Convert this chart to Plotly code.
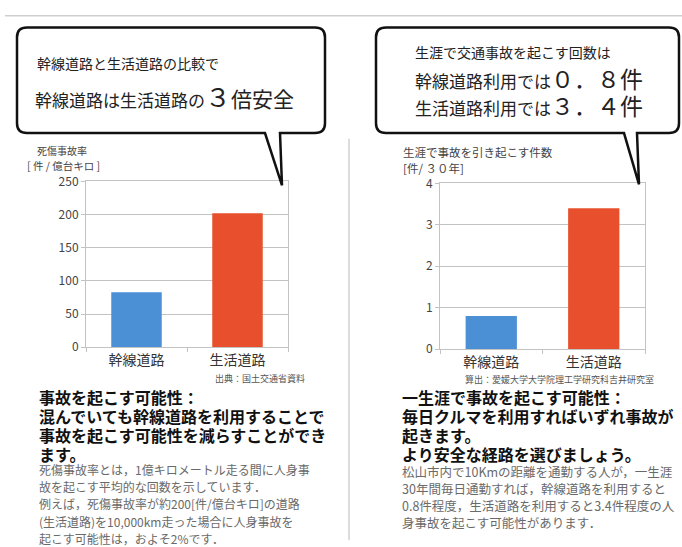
import plotly.graph_objects as go

# ---------------- data ----------------
categories = ["幹線道路", "生活道路"]
casualty_rate = [83, 202]          # 死傷事故率 [件/億台キロ]
lifetime_accidents = [0.8, 3.4]    # 生涯で事故を引き起こす件数 [件/30年]
bar_colors = ["#4b8fd5", "#e8502d"]
left_y_ticks = [0, 50, 100, 150, 200, 250]
right_y_ticks = [0, 1, 2, 3, 4]

W, H = 682, 547
FONT = "Noto Sans CJK JP"


def px(x):
    return x / W


def py(y):
    return 1 - y / H


fig = go.Figure()
fig.add_trace(go.Bar(x=categories, y=casualty_rate, marker=dict(color=bar_colors, line=dict(width=0)),
                     xaxis="x", yaxis="y", showlegend=False, hoverinfo="skip"))
fig.add_trace(go.Bar(x=categories, y=lifetime_accidents, marker=dict(color=bar_colors, line=dict(width=0)),
                     xaxis="x2", yaxis="y2", showlegend=False, hoverinfo="skip"))

grid = "#c3c3c3"
axis_common = dict(showline=True, linecolor=grid, linewidth=1, mirror=True, zeroline=False)

fig.update_layout(
    width=W, height=H, autosize=False,
    margin=dict(l=0, r=0, t=0, b=0),
    paper_bgcolor="white", plot_bgcolor="white",
    font=dict(family=FONT, color="#333"),
    bargap=0.5,
    xaxis=dict(domain=[px(86), px(288)], anchor="y", tickson="boundaries", ticks="outside",
               ticklen=4, tickcolor=grid, tickfont=dict(size=14, color="#333"),
               showgrid=False, **axis_common),
    yaxis=dict(domain=[py(348), py(177)], anchor="x", range=[0, 250], tickvals=left_y_ticks,
               ticks="outside", ticklen=4, tickcolor=grid, tickfont=dict(size=12, color="#444"),
               gridcolor=grid, gridwidth=1, **axis_common),
    xaxis2=dict(domain=[px(440), px(645)], anchor="y2", tickson="boundaries", ticks="outside",
                ticklen=4, tickcolor=grid, tickfont=dict(size=14, color="#333"),
                showgrid=False, **axis_common),
    yaxis2=dict(domain=[py(350), py(179)], anchor="x2", range=[0, 4], tickvals=right_y_ticks,
                ticks="outside", ticklen=4, tickcolor=grid, tickfont=dict(size=12, color="#444"),
                gridcolor=grid, gridwidth=1, **axis_common),
)


def bubble(x0, y0, x1, y1, r, tl, tr, tip):
    P = lambda x, y: f"{px(x):.5f},{py(y):.5f}"
    d = (f"M {P(x0 + r, y0)} L {P(x1 - r, y0)} Q {P(x1, y0)} {P(x1, y0 + r)} "
         f"L {P(x1, y1 - r)} Q {P(x1, y1)} {P(x1 - r, y1)} "
         f"L {P(tr, y1)} L {P(tip[0], tip[1])} L {P(tl, y1)} "
         f"L {P(x0 + r, y1)} Q {P(x0, y1)} {P(x0, y1 - r)} "
         f"L {P(x0, y0 + r)} Q {P(x0, y0)} {P(x0 + r, y0)} Z")
    return dict(type="path", xref="paper", yref="paper", path=d,
                fillcolor="white", line=dict(color="#111", width=2.5), layer="above")


shapes = [
    dict(type="line", xref="paper", yref="paper", x0=px(5), x1=px(682), y0=py(6), y1=py(6),
         line=dict(color="#cfcfcf", width=1.5)),
    dict(type="line", xref="paper", yref="paper", x0=px(349), x1=px(349), y0=py(133), y1=py(547),
         line=dict(color="#dcdcdc", width=2)),
    bubble(17, 18, 325, 127, 10, 265, 280, (282, 181)),
    bubble(376, 18, 679, 127, 10, 624, 637, (639, 180)),
]
fig.update_layout(shapes=shapes)


def block(x, y_first, lines, size, spacing, color="#222", bold=False):
    """Multi-line text block; line spacing set through the base font size."""
    base = spacing / 1.3
    body = "<br>".join(f"<span style='font-size:{size}px'>{l}</span>" for l in lines)
    if bold:
        body = f"<b>{body}</b>"
    yc = y_first + (len(lines) - 1) * spacing / 2
    fig.add_annotation(xref="paper", yref="paper", x=px(x), y=py(yc), text=body, showarrow=False,
                       xanchor="left", yanchor="middle", align="left",
                       font=dict(size=base, color=color, family=FONT))


# bubble texts
block(35, 55, ["幹線道路と生活道路の比較で"], 14, 18)
block(33, 88, ["幹線道路は生活道路の<span style='font-size:26px'>３</span>"
               "<span style='font-size:21px'>倍安全</span>"], 17, 26)
block(413, 43, ["生涯で交通事故を起こす回数は"], 14, 18)
block(413, 71, ["幹線道路利用では<span style='font-size:23px'>０．８件</span>",
                "生活道路利用では<span style='font-size:23px'>３．４件</span>"], 17, 27)

# axis titles
block(35, 145, ["死傷事故率"], 10, 14, "#444")
block(25, 161, ["[ 件 / 億台キロ ]"], 10.5, 14, "#444")
block(401, 147, ["生涯で事故を引き起こす件数", "[件/ ３０年]"], 11.5, 16, "#444")

# sources
block(213, 380, ["出典：国土交通省資料"], 9, 12, "#555")
block(463, 381, ["算出：愛媛大学大学院理工学研究科吉井研究室"], 9, 12, "#555")

# bottom texts left
left_heads = ["事故を起こす可能性：", "混んでいても幹線道路を利用することで",
              "事故を起こす可能性を減らすことができ", "ます。"]
block(37, 400, left_heads, 16, 19, "#111", bold=True)
left_small = ["死傷事故率とは，1億キロメートル走る間に人身事", "故を起こす平均的な回数を示しています．",
              "例えば，死傷事故率が約200[件/億台キロ]の道路", "(生活道路)を10,000km走った場合に人身事故を",
              "起こす可能性は，およそ2%です．"]
block(37, 475, left_small, 12, 17.2, "#6a6a6a")

# bottom texts right
right_heads = ["一生涯で事故を起こす可能性：", "毎日クルマを利用すればいずれ事故が",
               "起きます。", "より安全な経路を選びましょう。"]
block(400, 400, right_heads, 16, 19, "#111", bold=True)
right_small = ["松山市内で10Kmの距離を通勤する人が，一生涯", "30年間毎日通勤すれば，幹線道路を利用すると",
               "0.8件程度，生活道路を利用すると3.4件程度の人", "身事故を起こす可能性があります．"]
block(400, 477, right_small, 12.5, 17, "#6a6a6a")

fig.write_html("out.html", config={"displayModeBar": False},
               post_script="document.body.style.margin='0';document.body.style.overflow='hidden';")
